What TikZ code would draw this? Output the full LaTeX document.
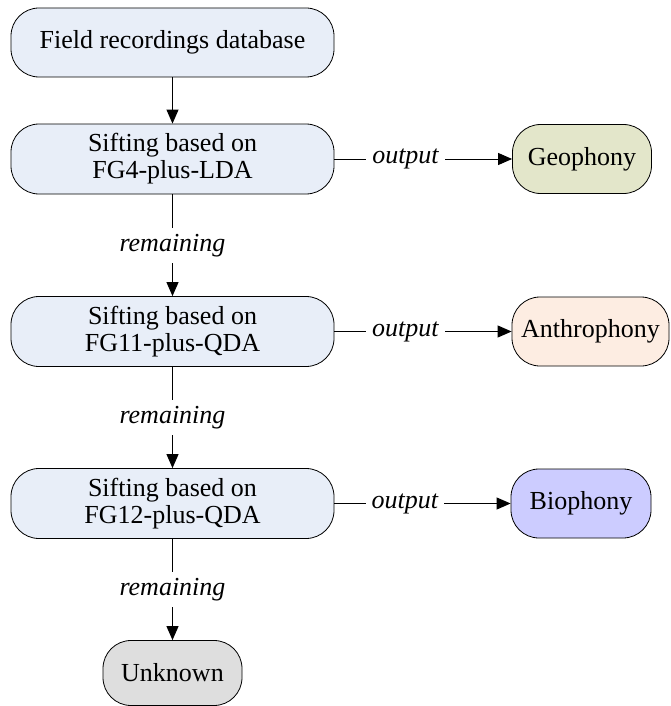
\documentclass[tikz,border=0pt]{standalone}
\usepackage{fontspec}
\setmainfont{Liberation Serif}
\usetikzlibrary{arrows.meta}
\definecolor{siftblue}{HTML}{E8EEF8}
\definecolor{geocol}{HTML}{E3E6CA}
\definecolor{anthcol}{HTML}{FDEDE2}
\definecolor{biocol}{HTML}{CCCCFF}
\definecolor{unkcol}{HTML}{DEDEDE}
\begin{document}
\begin{tikzpicture}[x=1pt,y=-1pt,
    box/.style={draw, line width=0.8pt, rounded corners=28pt, align=center,
        font=\fontsize{26}{27}\selectfont, inner sep=0pt},
    stage/.style={box, fill=siftblue, minimum width=323pt, minimum height=70pt},
    sink/.style={box, minimum width=139pt, minimum height=69pt},
    flow/.style={line width=1pt, -{Triangle[length=14pt,width=12pt]}},
    tag/.style={fill=white, inner sep=6pt, font=\fontsize{26}{27}\selectfont\itshape}]
    \useasboundingbox (0,0) rectangle (670,706);
    \node[stage, minimum height=69pt] (db) at (172.5,42.5) {Field recordings database};
    \node[stage] (s1) at (172.5,159) {Sifting based on\\FG4-plus-LDA};
    \node[stage] (s2) at (172.5,331.5) {Sifting based on\\FG11-plus-QDA};
    \node[stage] (s3) at (172.5,503.5) {Sifting based on\\FG12-plus-QDA};
    \node[sink, fill=unkcol, minimum height=65pt] (unk) at (172.5,673) {Unknown};
    \node[sink, fill=geocol] (geo) at (582,159) {Geophony};
    \node[sink, fill=anthcol, minimum width=157pt] (anth) at (590.5,331.5) {Anthrophony};
    \node[sink, fill=biocol, minimum width=140pt] (bio) at (581,503.5) {Biophony};
    \draw[flow] (db) -- (s1);
    \draw[flow] (s1) -- node[tag]{remaining} (s2);
    \draw[flow] (s2) -- node[tag]{remaining} (s3);
    \draw[flow] (s3) -- node[tag]{remaining} (unk);
    \draw[flow] (s1) -- node[tag, pos=0.4]{output} (geo);
    \draw[flow] (s2) -- node[tag, pos=0.4]{output} (anth);
    \draw[flow] (s3) -- node[tag, pos=0.4]{output} (bio);
\end{tikzpicture}
\end{document}
